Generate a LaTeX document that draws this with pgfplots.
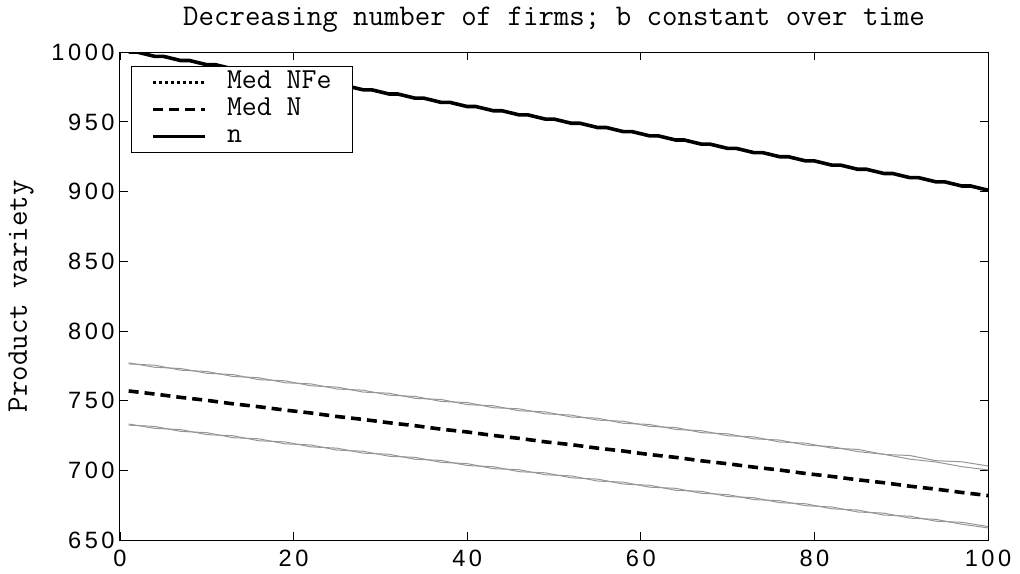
\documentclass[border=0pt]{standalone}
\usepackage{fontspec}
\usepackage{pgfplots}
\pgfplotsset{compat=1.18}
\newfontfamily\tickfont[LetterSpace=15]{Liberation Sans}
\newcommand\labfont{\ttfamily\fontsize{15}{18}\selectfont}
\newcommand\legfont{\ttfamily\fontsize{14.5}{16}\selectfont}
\definecolor{bandgray}{RGB}{150,150,150}
\begin{document}
\begin{tikzpicture}
\begin{axis}[
  scale only axis, width=434pt, height=244pt,
  xmin=0, xmax=100, ymin=650, ymax=1000,
  xtick={0,20,40,60,80,100}, ytick={650,700,750,800,850,900,950,1000},
  tick align=inside, major tick length=4pt,
  tick style={black, line width=0.4pt},
  axis line style={line width=0.5pt},
  /pgf/number format/assume math mode=true,
  /pgf/number format/1000 sep={},
  ticklabel style={font=\tickfont\fontsize{11.8}{14}\selectfont},
  yticklabel style={anchor=east, inner sep=0pt, xshift=-2.5pt},
  xticklabel style={anchor=base, inner sep=0pt, yshift=-13pt},
  title={Decreasing number of firms; b constant over time},
  title style={font=\labfont, at={(axis description cs:0.5,1)}, anchor=base, yshift=7.5pt},
  ylabel={Product variety},
  ylabel style={font=\labfont, at={(axis description cs:-0.114,0.5)}, anchor=center},
  legend style={at={(rel axis cs:0,1)}, anchor=north west, xshift=5.5pt, yshift=-7pt,
    draw=black, font=\legfont,
    inner xsep=10pt, inner ysep=1.2pt, row sep=0pt, cells={anchor=west},
    nodes={inner xsep=0.5pt, inner ysep=1.25pt, text height=8.5pt, text depth=2.5pt}},
  legend image code/.code={\draw[#1] (0pt,0pt) -- (26pt,0pt); \path (35.5pt,0pt);},
]
% bands (gray)
\addplot[bandgray, line width=0.5pt, forget plot] coordinates {
(1,777.2)(4,774.0)(7,773.1)(10,769.7)(13,768.8)(16,765.1)(19,764.3)(22,760.7)(25,759.8)(28,756.2)(31,755.4)(34,751.7)(37,750.9)(40,747.2)(43,746.4)(46,742.8)(49,742.0)(52,738.3)(55,737.5)(58,733.8)(61,733.0)(64,729.4)(67,728.5)(70,724.9)(73,724.1)(76,720.4)(79,719.6)(82,716.0)(85,715.1)(88,711.5)(91,710.7)(94,707.0)(97,706.2)(100,703.2)};
\addplot[bandgray, line width=0.5pt, forget plot] coordinates {
(1,776.4)(4,775.5)(7,771.9)(10,771.0)(13,767.4)(16,766.5)(19,762.9)(22,762.1)(25,758.4)(28,757.6)(31,754.0)(34,753.1)(37,749.5)(40,748.7)(43,745.0)(46,744.2)(49,740.6)(52,739.7)(55,736.1)(58,735.3)(61,731.6)(64,730.8)(67,727.1)(70,726.3)(73,722.7)(76,721.8)(79,718.2)(82,717.1)(85,713.5)(88,711.6)(91,708.1)(94,706.1)(97,702.7)(100,700.4)};
\addplot[bandgray, line width=0.5pt, forget plot] coordinates {
(1,733.3)(4,730.2)(7,729.3)(10,725.7)(13,724.9)(16,721.3)(19,720.5)(22,716.9)(25,716.0)(28,712.4)(31,711.6)(34,708.0)(37,707.2)(40,703.5)(43,702.7)(46,699.1)(49,698.3)(52,694.7)(55,693.8)(58,690.2)(61,689.4)(64,685.8)(67,685.0)(70,681.3)(73,680.5)(76,676.9)(79,676.1)(82,672.5)(85,671.6)(88,668.0)(91,667.2)(94,663.6)(97,662.8)(100,659.8)};
\addplot[bandgray, line width=0.5pt, forget plot] coordinates {
(1,732.5)(4,731.6)(7,728.0)(10,727.1)(13,723.5)(16,722.7)(19,719.1)(22,718.3)(25,714.6)(28,713.8)(31,710.2)(34,709.4)(37,705.8)(40,704.9)(43,701.3)(46,700.5)(49,696.9)(52,696.1)(55,692.4)(58,691.6)(61,688.0)(64,687.2)(67,683.6)(70,682.7)(73,679.1)(76,678.3)(79,674.7)(82,673.8)(85,670.2)(88,669.4)(91,665.8)(94,664.9)(97,661.4)(100,658.8)};
% Med NFe (legend only, hidden beneath Med N)
\addlegendimage{black, line width=1.4pt, dash pattern=on 1.4pt off 1.6pt}
\addlegendentry{Med NFe}
% Med N
\addplot[black, line width=1.8pt, dash pattern=on 5pt off 3pt] coordinates {
(1,757.0)(4,754.8)(7,752.4)(10,750.3)(13,747.8)(16,745.7)(19,743.3)(22,741.2)(25,738.7)(28,736.6)(31,734.2)(34,732.1)(37,729.6)(40,727.6)(43,725.1)(46,723.0)(49,720.5)(52,718.5)(55,716.0)(58,713.9)(61,711.4)(64,709.4)(67,706.9)(70,704.8)(73,702.4)(76,700.3)(79,697.8)(82,695.7)(85,693.3)(88,691.2)(91,688.7)(94,686.6)(97,684.2)(100,682.0)};
\addlegendentry{Med N}
% n
\addplot[black, line width=1.8pt] coordinates {
(1,1000)(2,1000)(4,997)(5,997)(7,994)(8,994)(10,991)(11,991)(13,988)(14,988)(16,985)(17,985)(19,982)(20,982)(22,979)(23,979)(25,976)(26,976)(28,973)(29,973)(31,970)(32,970)(34,967)(35,967)(37,964)(38,964)(40,961)(41,961)(43,958)(44,958)(46,955)(47,955)(49,952)(50,952)(52,949)(53,949)(55,946)(56,946)(58,943)(59,943)(61,940)(62,940)(64,937)(65,937)(67,934)(68,934)(70,931)(71,931)(73,928)(74,928)(76,925)(77,925)(79,922)(80,922)(82,919)(83,919)(85,916)(86,916)(88,913)(89,913)(91,910)(92,910)(94,907)(95,907)(97,904)(98,904)(100,901)};
\addlegendentry{n}
\coordinate (bl) at (rel axis cs:0,0);
\coordinate (tr) at (rel axis cs:1,1);
\end{axis}
\path ([shift={(-60pt,-16.5pt)}]bl) rectangle ([shift={(16pt,22pt)}]tr);
\end{tikzpicture}
\end{document}
